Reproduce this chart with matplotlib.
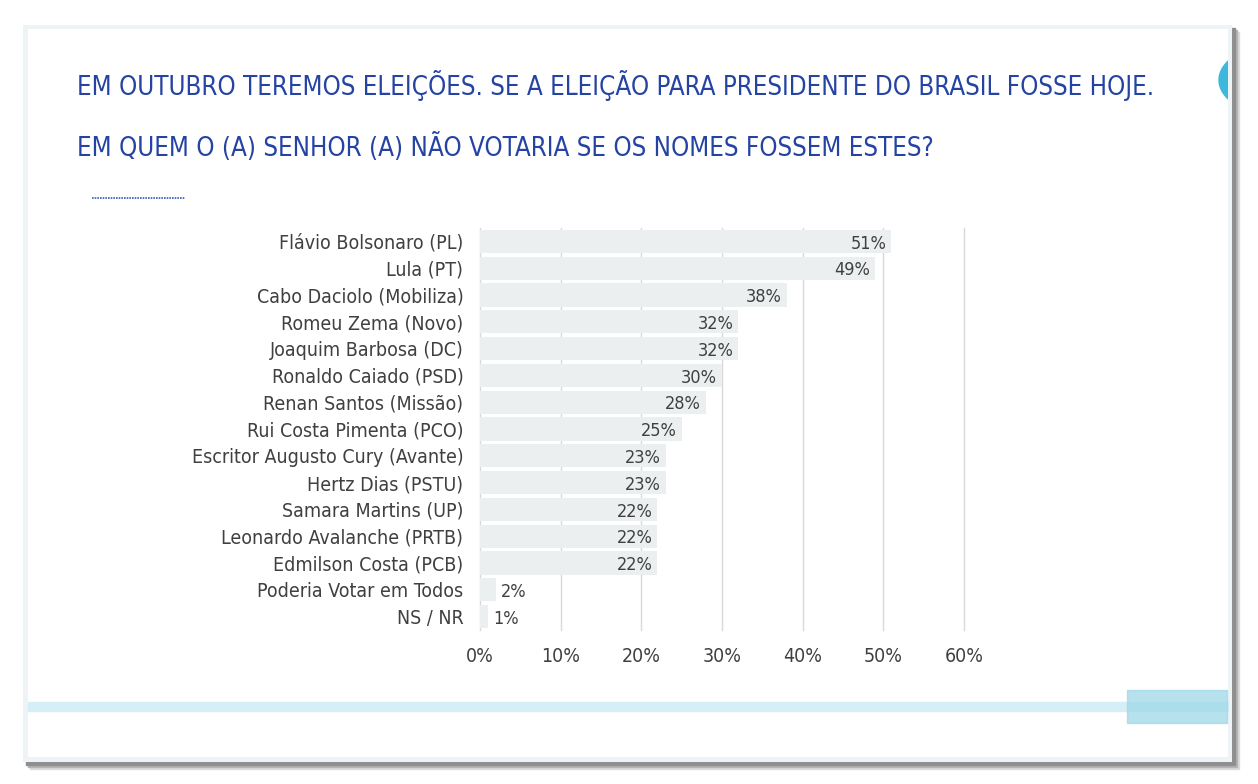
import matplotlib.pyplot as plt
from matplotlib.patches import Rectangle, Circle

candidatos = ["Flávio Bolsonaro (PL)", "Lula (PT)", "Cabo Daciolo (Mobiliza)",
              "Romeu Zema (Novo)", "Joaquim Barbosa (DC)", "Ronaldo Caiado (PSD)",
              "Renan Santos (Missão)", "Rui Costa Pimenta (PCO)",
              "Escritor Augusto Cury (Avante)", "Hertz Dias (PSTU)",
              "Samara Martins (UP)", "Leonardo Avalanche (PRTB)",
              "Edmilson Costa (PCB)", "Poderia Votar em Todos", "NS / NR"]
rejeicao = [51, 49, 38, 32, 32, 30, 28, 25, 23, 23, 22, 22, 22, 2, 1]
ticks = [0, 10, 20, 30, 40, 50, 60]

titulo = ("EM OUTUBRO TEREMOS ELEIÇÕES. SE A ELEIÇÃO PARA PRESIDENTE DO BRASIL FOSSE HOJE.\n"
          "EM QUEM O (A) SENHOR (A) NÃO VOTARIA SE OS NOMES FOSSEM ESTES?")

W, H = 1258, 784
fig = plt.figure(figsize=(W / 100, H / 100), dpi=100)
fig.patch.set_facecolor("white")

def px(x0, y0, x1, y1):
    # pixel box -> figure fraction (x, y, w, h), y measured from the top
    return (x0 / W, 1 - y1 / H, (x1 - x0) / W, (y1 - y0) / H)

# slide card with shadow
for off, c in [(7, "#dcdcdc"), (5, "#b5b5b5"), (3, "#8f8f8f")]:
    x, y, w, h = px(23 + off, 25 + off, 1232 + off, 762 + off)
    fig.patches.append(Rectangle((x, y), w, h, transform=fig.transFigure,
                                 color=c, zorder=0))
x, y, w, h = px(23, 25, 1232, 762)
fig.patches.append(Rectangle((x, y), w, h, transform=fig.transFigure,
                             facecolor="#eef4f6", edgecolor="none", zorder=1))
x, y, w, h = px(28, 29, 1228, 757)
card = Rectangle((x, y), w, h, transform=fig.transFigure,
                 facecolor="white", edgecolor="none", zorder=2)
fig.patches.append(card)

# blue circle cut by the card edge
circ = Circle((1274 / W, 1 - 80 / H), 55 / W, transform=fig.transFigure,
              color="#3db8dc", zorder=3)
fig.patches.append(circ)
circ.set_clip_path(card)

# bottom decoration
x, y, w, h = px(28, 702, 1228, 711)
fig.patches.append(Rectangle((x, y), w, h, transform=fig.transFigure,
                             color="#d6eef6", zorder=3))
x, y, w, h = px(1127, 690, 1227, 723)
fig.patches.append(Rectangle((x, y), w, h, transform=fig.transFigure,
                             color="#9fd8e8", alpha=0.75, zorder=4))

# title
fig.text(77 / W, 1 - 70 / H, titulo, color="#2443a3", fontsize=18.6,
         family="DejaVu Sans", stretch="condensed", va="top", ha="left",
         linespacing=2.4, zorder=5)
fig.lines.append(plt.Line2D([92 / W, 185 / W], [1 - 198 / H] * 2,
                            transform=fig.transFigure, color="#3a5cb8",
                            lw=1.2, ls=(0, (1, 0.6)), zorder=5))

# chart
ax = fig.add_axes(px(480, 228, 964, 630))
ax.set_zorder(6)
ax.patch.set_alpha(0)
pos = list(range(len(candidatos)))
ax.barh(pos, rejeicao, height=0.86, color="#ebeff0", zorder=2)
ax.set_ylim(len(candidatos) - 0.5, -0.5)
ax.set_xlim(0, 60)
ax.set_xticks(ticks)
ax.set_xticklabels([f"{t}%" for t in ticks])
ax.set_yticks(pos)
ax.set_yticklabels(candidatos)
ax.grid(axis="x", color="#d9d9d9", lw=1, zorder=0)
for gl in ax.get_xgridlines():
    gl.set_clip_on(False)
for s in ax.spines.values():
    s.set_visible(False)
ax.tick_params(length=0, colors="#404040", labelsize=14)
ax.tick_params(axis="y", pad=12)
ax.tick_params(axis="x", pad=12)
for lab in ax.get_xticklabels() + ax.get_yticklabels():
    lab.set_family("DejaVu Sans")
    lab.set_stretch("condensed")

for i, v in enumerate(rejeicao):
    if v > 5:
        ax.text(v - 0.6, i + 0.08, f"{v}%", ha="right", va="center",
                fontsize=13, color="#404040", stretch="condensed", zorder=3)
    else:
        ax.text(v + 0.6, i + 0.08, f"{v}%", ha="left", va="center",
                fontsize=13, color="#404040", stretch="condensed", zorder=3)

fig.savefig("out.png", dpi=100)
